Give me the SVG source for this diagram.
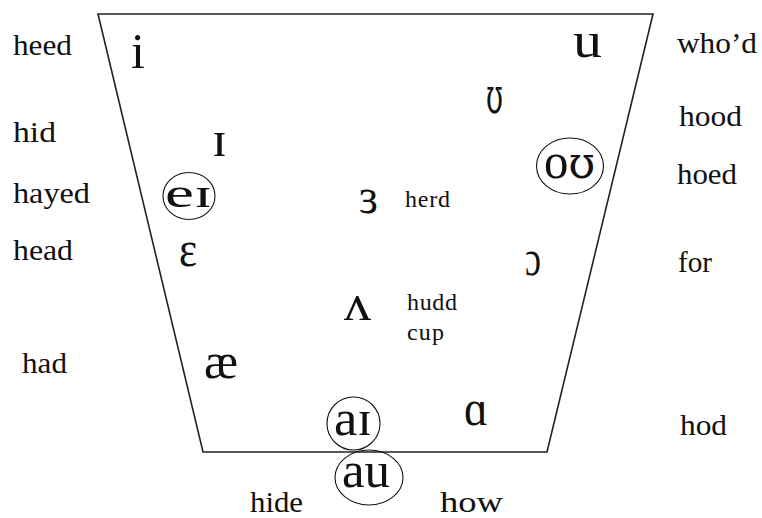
<svg xmlns="http://www.w3.org/2000/svg" width="762" height="518" viewBox="0 0 762 518">
<style>
.frame{fill:none;stroke:#222;stroke-width:1.6;stroke-linejoin:miter}
.ring{fill:none;stroke:#111;stroke-width:1.1}
.sym{font-size:50px}
.dip{font-size:42px}
.lab{font-size:30px}
.small{font-size:24px}
</style>
<rect width="762" height="518" fill="#fff"/>
<g id="chart-frame">
<polygon class="frame" points="98,14 653,14 547,452 203,452"/>
</g>
<g id="connectors"></g>
<g font-family="Liberation Serif, serif" fill="#111">
<g id="labels-left">
<text class="lab" x="13" y="55" textLength="59" lengthAdjust="spacingAndGlyphs">heed</text>
<text class="lab" x="13" y="142" textLength="43" lengthAdjust="spacingAndGlyphs">hid</text>
<text class="lab" x="13" y="203" textLength="77" lengthAdjust="spacingAndGlyphs">hayed</text>
<text class="lab" x="13" y="260" textLength="60" lengthAdjust="spacingAndGlyphs">head</text>
<text class="lab" x="22" y="373" textLength="45" lengthAdjust="spacingAndGlyphs">had</text>
</g>
<g id="labels-right">
<text class="lab" x="677" y="53" textLength="80" lengthAdjust="spacingAndGlyphs">who’d</text>
<text class="lab" x="679" y="126" textLength="63" lengthAdjust="spacingAndGlyphs">hood</text>
<text class="lab" x="677" y="184" textLength="60" lengthAdjust="spacingAndGlyphs">hoed</text>
<text class="lab" x="678" y="272" textLength="34" lengthAdjust="spacingAndGlyphs">for</text>
<text class="lab" x="680" y="435" textLength="47" lengthAdjust="spacingAndGlyphs">hod</text>
</g>
<g id="labels-bottom">
<text class="lab" x="250" y="512" textLength="53" lengthAdjust="spacingAndGlyphs">hide</text>
<text class="lab" x="440" y="512" textLength="63" lengthAdjust="spacingAndGlyphs">how</text>
</g>
<g id="vowel-i"><text class="sym" x="131" y="68">i</text></g>
<g id="vowel-I"><text class="sym" x="212" y="156" textLength="15" lengthAdjust="spacingAndGlyphs">ɪ</text></g>
<g id="vowel-eI">
<ellipse class="ring" cx="189" cy="196" rx="26" ry="23.5"/>
<text class="dip" x="165" y="207" textLength="47" lengthAdjust="spacingAndGlyphs">eɪ</text>
</g>
<g id="vowel-E"><text class="sym" x="179" y="266" textLength="18" lengthAdjust="spacingAndGlyphs">ɛ</text></g>
<g id="vowel-ae"><text class="sym" x="204" y="378" textLength="34" lengthAdjust="spacingAndGlyphs">æ</text></g>
<g id="vowel-3">
<text class="sym" x="359" y="213" textLength="19" lengthAdjust="spacingAndGlyphs">ɜ</text>
<text class="small" x="405" y="207" textLength="45" lengthAdjust="spacing">herd</text>
</g>
<g id="vowel-V">
<text class="sym" x="344" y="320" textLength="27" lengthAdjust="spacingAndGlyphs">ʌ</text>
<text class="small" x="407" y="310" textLength="50" lengthAdjust="spacing">hudd</text>
<text class="small" x="407" y="340" textLength="37" lengthAdjust="spacing">cup</text>
</g>
<g id="vowel-u"><text class="sym" x="573" y="57" textLength="29" lengthAdjust="spacingAndGlyphs">u</text></g>
<g id="vowel-U"><text class="sym" font-family="DejaVu Serif, serif" x="486" y="113" font-size="44" textLength="17" lengthAdjust="spacingAndGlyphs">ʊ</text></g>
<g id="vowel-oU">
<ellipse class="ring" cx="570" cy="166" rx="33.5" ry="28"/>
<text class="sym" x="544" y="178" textLength="51" lengthAdjust="spacingAndGlyphs">o<tspan font-family="DejaVu Serif, serif" font-size="44">ʊ</tspan></text>
</g>
<g id="vowel-c"><text class="sym" x="525" y="275" textLength="16" lengthAdjust="spacingAndGlyphs">ɔ</text></g>
<g id="vowel-A"><text class="sym" x="464" y="425" textLength="24" lengthAdjust="spacingAndGlyphs">ɑ</text></g>
<g id="vowel-aI">
<ellipse class="ring" cx="353.5" cy="423.5" rx="26.5" ry="26.5"/>
<text class="sym" x="334" y="435" textLength="38" lengthAdjust="spacingAndGlyphs">aɪ</text>
</g>
<g id="vowel-au">
<ellipse class="ring" cx="369" cy="477.5" rx="34" ry="27.5"/>
<text class="sym" x="342" y="487" textLength="48" lengthAdjust="spacingAndGlyphs">au</text>
</g>
</g>
</svg>
